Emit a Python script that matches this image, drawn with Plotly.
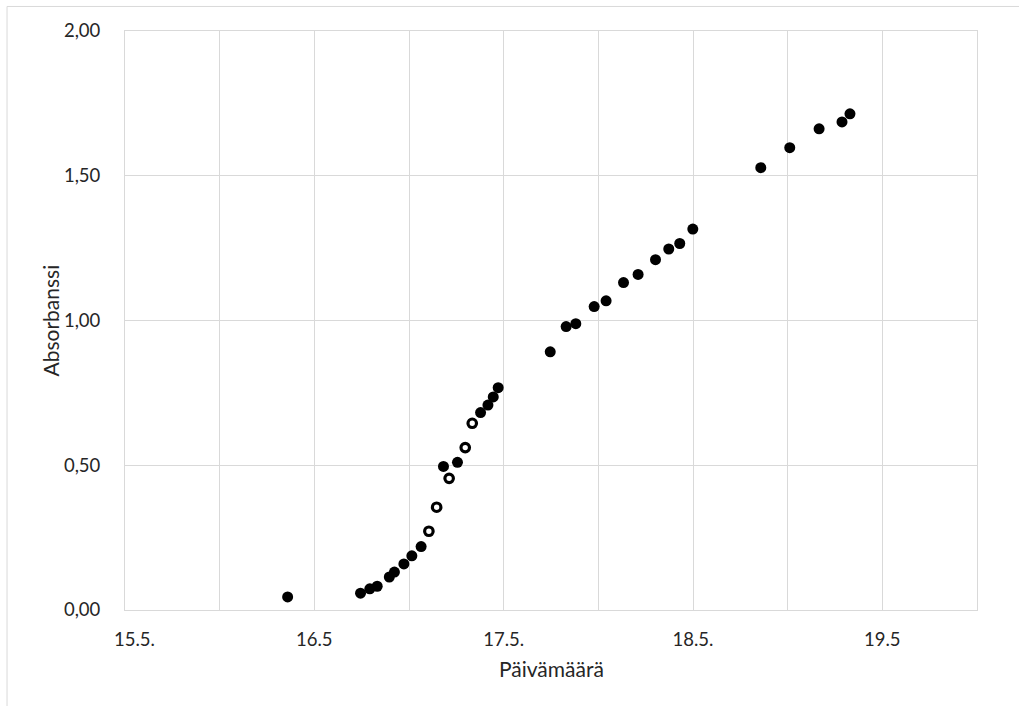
import plotly.graph_objects as go

# Measurement times (day of May, fractional) and absorbance readings
filled_day = [15.859, 16.244, 16.293, 16.332, 16.396, 16.423, 16.473, 16.515, 16.564,
              16.682, 16.756, 16.878, 16.917, 16.945, 16.971,
              17.246, 17.330, 17.381, 17.478, 17.541, 17.633, 17.710, 17.802, 17.872,
              17.930, 17.999, 18.358, 18.511, 18.666, 18.787, 18.829]
filled_abs = [0.045, 0.058, 0.073, 0.082, 0.114, 0.131, 0.159, 0.187, 0.219,
              0.496, 0.510, 0.682, 0.708, 0.736, 0.768,
              0.892, 0.979, 0.989, 1.048, 1.068, 1.131, 1.159, 1.210, 1.247,
              1.266, 1.316, 1.528, 1.597, 1.662, 1.686, 1.714]

open_day = [16.605, 16.646, 16.712, 16.797, 16.834]
open_abs = [0.272, 0.355, 0.455, 0.561, 0.645]

# Axis ticks
x_tickvals = [15, 15.5, 16, 16.5, 17, 17.5, 18, 18.5, 19, 19.5]
x_ticktext = ["\u00a0\u00a0\u00a0\u00a015.5.", "", "16.5", "", "17.5.", "", "18.5.", "", "19.5", ""]
y_tickvals = [0, 0.5, 1.0, 1.5, 2.0]
y_ticktext = ["0,00", "0,50", "1,00", "1,50", "2,00"]

FONT = "Lato"
TEXT = "#262626"
GRID = "#d9d9d9"

fig = go.Figure()
fig.add_trace(go.Scatter(
    x=filled_day, y=filled_abs, mode="markers",
    marker=dict(symbol="circle", size=11, color="black", line=dict(width=0)),
    showlegend=False, hoverinfo="x+y"))
fig.add_trace(go.Scatter(
    x=open_day, y=open_abs, mode="markers",
    marker=dict(symbol="circle", size=8.5, color="white", line=dict(width=3.2, color="black")),
    showlegend=False, hoverinfo="x+y"))

fig.update_xaxes(
    range=[15, 19.5], tickmode="array", tickvals=x_tickvals, ticktext=x_ticktext,
    showgrid=True, gridcolor=GRID, gridwidth=1, zeroline=False,
    showline=True, linecolor=GRID, linewidth=1, mirror=True,
    ticks="", ticklabelstandoff=13,
    tickfont=dict(family=FONT, size=18.5, color=TEXT))
fig.update_yaxes(
    range=[0, 2.0], tickmode="array", tickvals=y_tickvals, ticktext=y_ticktext,
    showgrid=True, gridcolor=GRID, gridwidth=1, zeroline=False,
    showline=True, linecolor=GRID, linewidth=1, mirror=True,
    ticks="", ticklabelstandoff=20,
    tickfont=dict(family=FONT, size=18.5, color=TEXT))

# Axis titles
fig.add_annotation(text="Päivämäärä", xref="paper", yref="paper", x=0.5, y=-0.101,
                   xanchor="center", yanchor="middle", showarrow=False,
                   font=dict(family=FONT, size=21, color=TEXT))
fig.add_annotation(text="Absorbanssi", xref="paper", yref="paper", x=-0.088, y=0.5,
                   xanchor="center", yanchor="middle", showarrow=False, textangle=-90,
                   font=dict(family=FONT, size=21, color=TEXT))

# Outer chart frame
fx = (7 - 125) / 852.3
fy = (609.7 - 7) / 578.2
fig.add_shape(type="line", xref="paper", yref="paper", x0=fx, y0=fy, x1=1.2, y1=fy,
              line=dict(color=GRID, width=1))
fig.add_shape(type="line", xref="paper", yref="paper", x0=fx, y0=fy, x1=fx, y1=-0.3,
              line=dict(color=GRID, width=1))

fig.update_layout(
    width=1019, height=706,
    margin=dict(l=125, r=42, t=31, b=96),
    paper_bgcolor="white", plot_bgcolor="white",
)

fig.write_html("out.html")
